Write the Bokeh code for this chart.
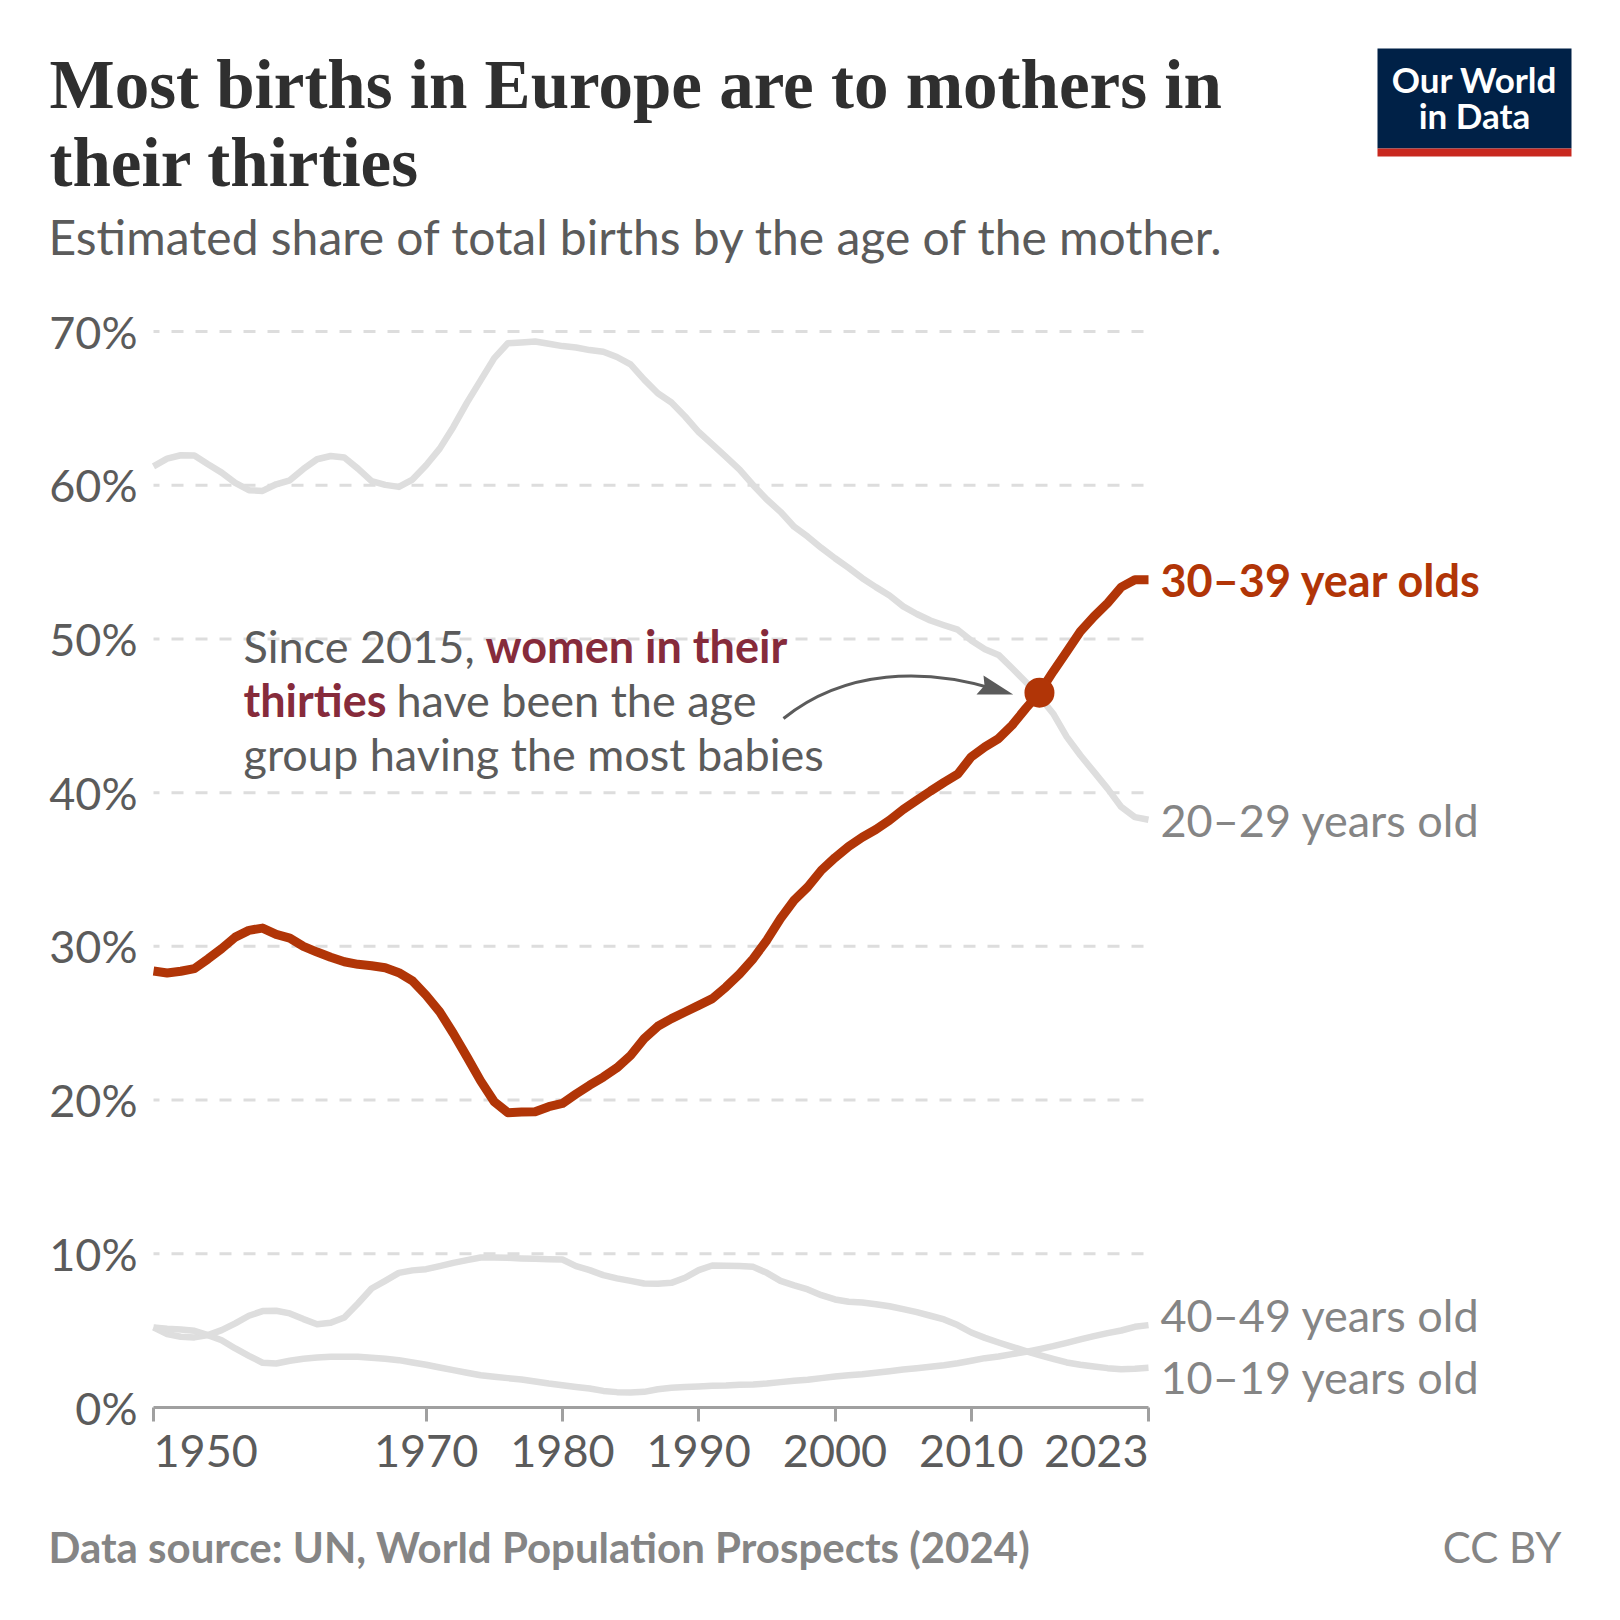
from bokeh.embed import file_html
from bokeh.models import BoxAnnotation, FixedTicker, Label, LinearAxis
from bokeh.plotting import figure
from bokeh.resources import INLINE

# ---- data -------------------------------------------------------------
years = list(range(1950, 2024))
age_20_29 = [61.23, 61.73, 61.95, 61.93, 61.36, 60.82, 60.15, 59.68, 59.63, 60.06,
             60.32, 61.06, 61.69, 61.90, 61.80, 61.08, 60.26, 60.02, 59.89, 60.37,
             61.30, 62.38, 63.79, 65.37, 66.82, 68.27, 69.24, 69.29, 69.35, 69.20,
             69.05, 68.96, 68.79, 68.68, 68.34, 67.86, 66.87, 65.98, 65.38, 64.47,
             63.46, 62.66, 61.84, 61.02, 60.00, 59.07, 58.27, 57.30, 56.65, 55.92,
             55.25, 54.62, 53.95, 53.37, 52.83, 52.12, 51.62, 51.20, 50.89, 50.60,
             49.90, 49.33, 48.96, 48.09, 47.20, 46.24, 45.15, 43.63, 42.43, 41.35,
             40.26, 39.07, 38.41, 38.24]
age_30_39 = [28.40, 28.27, 28.38, 28.55, 29.18, 29.85, 30.60, 31.04, 31.19, 30.78,
             30.54, 30.00, 29.63, 29.29, 29.00, 28.83, 28.74, 28.61, 28.29, 27.75,
             26.82, 25.74, 24.33, 22.81, 21.25, 19.89, 19.18, 19.22, 19.24, 19.57,
             19.78, 20.39, 20.97, 21.50, 22.10, 22.90, 24.00, 24.80, 25.30, 25.73,
             26.16, 26.60, 27.35, 28.20, 29.20, 30.40, 31.80, 33.00, 33.86, 34.95,
             35.77, 36.50, 37.10, 37.60, 38.20, 38.90, 39.50, 40.10, 40.67, 41.20,
             42.33, 42.98, 43.52, 44.39, 45.48, 46.50, 47.87, 49.17, 50.48, 51.46,
             52.33, 53.37, 53.85, 53.85]
age_10_19 = [5.21, 4.77, 4.60, 4.56, 4.71, 5.03, 5.47, 5.97, 6.27, 6.29,
             6.12, 5.75, 5.42, 5.51, 5.86, 6.77, 7.74, 8.24, 8.76, 8.92,
             9.00, 9.20, 9.41, 9.59, 9.76, 9.76, 9.74, 9.70, 9.67, 9.65,
             9.63, 9.20, 8.94, 8.61, 8.40, 8.24, 8.07, 8.05, 8.11, 8.44,
             8.94, 9.24, 9.22, 9.20, 9.15, 8.76, 8.24, 7.94, 7.68, 7.31,
             7.03, 6.88, 6.83, 6.72, 6.59, 6.40, 6.20, 5.97, 5.73, 5.36,
             4.88, 4.53, 4.23, 3.95, 3.67, 3.41, 3.17, 2.93, 2.78, 2.67,
             2.56, 2.49, 2.52, 2.58]
age_40_49 = [5.21, 5.12, 5.08, 4.99, 4.71, 4.38, 3.84, 3.36, 2.91, 2.86,
             3.04, 3.17, 3.25, 3.30, 3.30, 3.30, 3.23, 3.17, 3.08, 2.93,
             2.78, 2.60, 2.43, 2.26, 2.10, 2.00, 1.91, 1.82, 1.69, 1.56,
             1.45, 1.34, 1.24, 1.08, 1.00, 0.98, 1.02, 1.19, 1.28, 1.34,
             1.37, 1.41, 1.43, 1.48, 1.50, 1.56, 1.65, 1.74, 1.80, 1.91,
             2.02, 2.10, 2.17, 2.26, 2.36, 2.47, 2.56, 2.65, 2.75, 2.88,
             3.04, 3.21, 3.32, 3.47, 3.62, 3.80, 3.99, 4.21, 4.43, 4.64,
             4.84, 5.01, 5.25, 5.36]
x_ticks = [1950, 1970, 1980, 1990, 2000, 2010, 2023]
y_ticks = [0, 10, 20, 30, 40, 50, 60, 70]
highlight_year = 2015
grey_series = [age_20_29, age_10_19, age_40_49]

TITLE = ["Most births in Europe are to mothers in", "their thirties"]
SUBTITLE = "Estimated share of total births by the age of the mother."
SOURCE = "Data source: UN, World Population Prospects (2024)"

# ---- colours / fonts ---------------------------------------------------
RED = "#b13507"
GREY_LINE = "#dedede"
GREY_LABEL = "#858585"
DARK = "#5b5b5b"
MAROON = "#862b3b"
SANS = "Lato"
SERIF = "Liberation Serif"

# The frame fills the canvas; 1950/2023 fall at px 153/1148 and 0%/70% at px 1407/331
SIZE = 1604
FL, FR, FT, FB = 153, 1148, 331, 1407
BASE_SHIFT = 0.365   # labels render this fraction of the font size below the requested baseline
def dx(X):
    return 1950 + (X - FL) * 73 / (FR - FL)
def dy(Y):
    return (FB - Y) * 70 / (FB - FT)

p = figure(width=SIZE, height=SIZE, output_backend="svg", toolbar_location=None,
           x_range=(dx(0), dx(SIZE)), y_range=(dy(SIZE), dy(0)),
           x_axis_location=None, y_axis_location=None,
           min_border_left=0, min_border_right=0, min_border_top=0, min_border_bottom=0,
           background_fill_color="white", border_fill_color="white")
p.outline_line_color = None
p.grid.visible = False

# ---- grid -----------------------------------------------------------------
for v in y_ticks[1:]:
    p.line([x_ticks[0], x_ticks[-1]], [v, v], line_color="#dddddd", line_width=3,
           line_dash=[12, 12], line_dash_offset=6)

# ---- axes (fixed inside the frame, so they take no panel room) -------------
yax = LinearAxis(fixed_location=x_ticks[0], ticker=FixedTicker(ticks=y_ticks),
                 major_label_overrides={v: f"{v}%" for v in y_ticks},
                 axis_line_color=None, major_tick_line_color=None, minor_tick_line_color=None,
                 major_label_standoff=10, major_label_text_font=SANS,
                 major_label_text_font_size="45px", major_label_text_color=DARK)
p.add_layout(yax, "left")
xax = LinearAxis(fixed_location=y_ticks[0], ticker=FixedTicker(ticks=x_ticks),
                 bounds=(x_ticks[0], x_ticks[-1]),
                 axis_line_color="#a0a0a0", axis_line_width=3,
                 major_tick_line_color="#a0a0a0", major_tick_line_width=3,
                 major_tick_in=0, major_tick_out=14, minor_tick_line_color=None,
                 major_label_text_font_size="0px", major_label_text_color=None)
p.add_layout(xax, "below")

# ---- data marks -----------------------------------------------------------
for series in grey_series:
    p.line(years, series, line_color=GREY_LINE, line_width=6.5, line_join="round", line_cap="butt")
p.line(years, age_30_39, line_color=RED, line_width=9, line_join="round", line_cap="butt")
p.scatter([highlight_year], [age_30_39[years.index(highlight_year)]], size=30,
          fill_color=RED, line_color=None)

# ---- arrow ------------------------------------------------------------------
p.bezier(x0=[dx(783)], y0=[dy(718)], x1=[dx(992)], y1=[dy(688)],
         cx0=[dx(845)], cy0=[dy(668)], cx1=[dx(925)], cy1=[dy(668)],
         line_color=DARK, line_width=3)
p.patch([dx(1012.7), dx(983), dx(984), dx(976)], [dy(694), dy(675), dy(685), dy(694)],
        fill_color=DARK, line_color=None)

# ---- text ---------------------------------------------------------------------
def text(t, X, Y, size, color=DARK, font=SANS, style="normal", align="left"):
    p.add_layout(Label(x=X, y=SIZE - Y + BASE_SHIFT * size, x_units="screen", y_units="screen", text=t,
                       text_font=font, text_font_size=f"{size}px", text_font_style=style,
                       text_color=color, text_align=align, text_baseline="alphabetic"))

text(TITLE[0], 49, 110, 69, "#2f2f2f", SERIF, "bold")
text(TITLE[1], 49, 188, 69, "#2f2f2f", SERIF, "bold")
text(SUBTITLE, 48, 254, 48, DARK)

for year in x_ticks:
    align = "left" if year == x_ticks[0] else "right" if year == x_ticks[-1] else "center"
    p.add_layout(Label(x=year, y=SIZE - 1467 + BASE_SHIFT * 45, x_units="data", y_units="screen", text=str(year),
                       text_font=SANS, text_font_size="45px", text_color=DARK,
                       text_align=align, text_baseline="alphabetic"))

text("30\u201339 year olds", 1160, 596, 45, RED, style="bold")
text("20\u201329 years old", 1160, 836, 45, GREY_LABEL)
text("40\u201349 years old", 1160, 1331, 45, GREY_LABEL)
text("10\u201319 years old", 1160, 1393, 45, GREY_LABEL)

text("Since 2015,", 243, 662, 45)
text("women in their", 485, 662, 45, MAROON, style="bold")
text("thirties", 243, 716, 45, MAROON, style="bold")
text("have been the age", 396, 716, 45)
text("group having the most babies", 243, 770, 45)

text(SOURCE, 48, 1562, 42, GREY_LABEL, style="bold")
text("CC BY", 1561, 1562, 42, GREY_LABEL, align="right")

# ---- logo ------------------------------------------------------------------------
for top, bottom, colour in [(48, 148, "#002147"), (148, 156, "#c8281f")]:
    p.add_layout(BoxAnnotation(left=1377, right=1571, top=SIZE - top, bottom=SIZE - bottom,
                               left_units="screen", right_units="screen",
                               top_units="screen", bottom_units="screen",
                               fill_color=colour, fill_alpha=1, line_color=None))
text("Our World", 1474, 91, 35, "white", style="bold", align="center")
text("in Data", 1474, 127, 35, "white", style="bold", align="center")

open("out.html", "w").write(file_html(p, INLINE))
